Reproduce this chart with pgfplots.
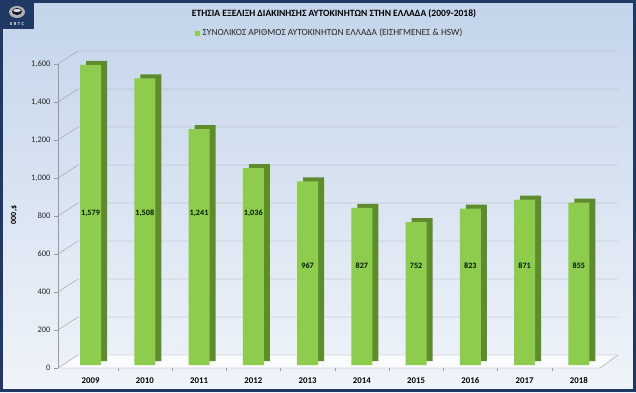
\documentclass[border=0pt]{standalone}
\usepackage{fontspec}
\setmainfont{Carlito}
\usepackage{pgfplots}
\pgfplotsset{compat=1.18}
\definecolor{navy}{RGB}{31,56,100}
\definecolor{bgtop}{RGB}{195,212,234}
\definecolor{bgbot}{RGB}{240,244,250}
\definecolor{frontg}{RGB}{142,204,78}
\definecolor{sideg}{RGB}{94,140,44}
\definecolor{gridc}{RGB}{150,155,162}
\begin{document}
\begin{tikzpicture}[x=1bp,y=1bp]
\useasboundingbox (0,0) rectangle (636,392);
\shade[top color=bgtop, bottom color=bgbot] (0,0) rectangle (636,392);
\begin{axis}[at={(58bp,24bp)}, anchor=south west, scale only axis,
  width=542bp, height=304bp, xmin=-0.6, xmax=9.39, ymin=0, ymax=1600,
  clip=false, axis x line*=bottom, axis y line*=left,
  x axis line style={draw=none}, y axis line style={gridc},
  ytick={0,200,...,1600}, xtick={0,...,9},
  xticklabels={2009,2010,2011,2012,2013,2014,2015,2016,2017,2018},
  xtick style={draw=none}, ytick style={gridc}, tick align=outside,
  major tick length=4bp,
  /pgf/number format/assume math mode=true,
  yticklabel style={font=\fontsize{8.5}{9}\selectfont, text=black!85},
  xticklabel style={font=\bfseries\fontsize{8.8}{9}\selectfont, yshift=-2bp},
  extra x ticks={0.5,1.5,...,8.5}, extra x tick labels={},
  extra x tick style={xtick style={draw=gridc}, major tick length=3bp},
]
% floor
\fill[white!60!bgbot] (axis cs:-0.6,0) -- ([shift={(20bp,13bp)}]axis cs:-0.6,0) -- ([shift={(18bp,13bp)}]axis cs:9.39,0) -- (axis cs:9.39,0) -- cycle;
\draw[gridc] (axis cs:-0.6,0) -- (axis cs:9.39,0) -- ([shift={(18bp,13bp)}]axis cs:9.39,0);
\pgfplotsinvokeforeach{0,200,400,600,800,1000,1200,1400,1600}{
  \draw[gridc] (axis cs:-0.6,#1) -- ([shift={(20bp,13bp)}]axis cs:-0.6,#1) -- ([shift={(18bp,13bp)}]axis cs:9.39,#1);
}
\addplot[ybar, bar width=21bp, bar shift=0pt, fill=sideg, draw=none, xshift=6bp, yshift=7bp]
  coordinates {(0,1579) (1,1508) (2,1241) (3,1036) (4,967) (5,827) (6,752) (7,823) (8,871) (9,855)};
\addplot[ybar, bar width=21bp, bar shift=0pt, fill=frontg, draw=none, yshift=3bp]
  coordinates {(0,1579) (1,1508) (2,1241) (3,1036) (4,967) (5,827) (6,752) (7,823) (8,871) (9,855)};
\addplot[draw=none, mark=none, point meta=explicit, nodes near coords,
  nodes near coords style={anchor=center, font=\bfseries\fontsize{8.2}{9}\selectfont, text=black!90!green}]
  coordinates {(0,816)[1579] (1,816)[1508] (2,816)[1241] (3,816)[1036] (4,537)[967]
               (5,537)[827] (6,537)[752] (7,537)[823] (8,537)[871] (9,537)[855]};
\end{axis}
% title & legend
\node[font=\bfseries\fontsize{9.6}{11}\selectfont] at (334,378) {ΕΤΗΣΙΑ ΕΞΕΛΙΞΗ ΔΙΑΚΙΝΗΣΗΣ ΑΥΤΟΚΙΝΗΤΩΝ ΣΤΗΝ ΕΛΛΑΔΑ (2009-2018)};
\fill[frontg] (194.5,356.5) rectangle (199.5,361.5);
\node[anchor=west, inner sep=0pt, font=\fontsize{9.4}{10}\selectfont, text=black!85] at (202.5,359) {ΣΥΝΟΛΙΚΟΣ ΑΡΙΘΜΟΣ ΑΥΤΟΚΙΝΗΤΩΝ ΕΛΛΑΔΑ (ΕΙΣΗΓΜΕΝΕΣ \& HSW)};
\node[rotate=90, font=\bfseries\fontsize{8}{9}\selectfont] at (14,177) {000,\$};
% logo
\fill[navy] (2,363) rectangle (34,390);
\fill[gray!60] (17,380) ellipse (8 and 6);
\fill[navy!50!black] (17,380.5) ellipse (5 and 3.5);
\fill[gray!30] (17,381.5) ellipse (4 and 1.5);
\node[text=white, font=\bfseries\fontsize{4.5}{5}\selectfont, inner sep=0pt] at (17,368) {X\,\,R\,\,T\,\,C};
% frame
\draw[navy, line width=3bp] (1.5,1.5) rectangle (634.5,390.5);
\end{tikzpicture}
\end{document}
